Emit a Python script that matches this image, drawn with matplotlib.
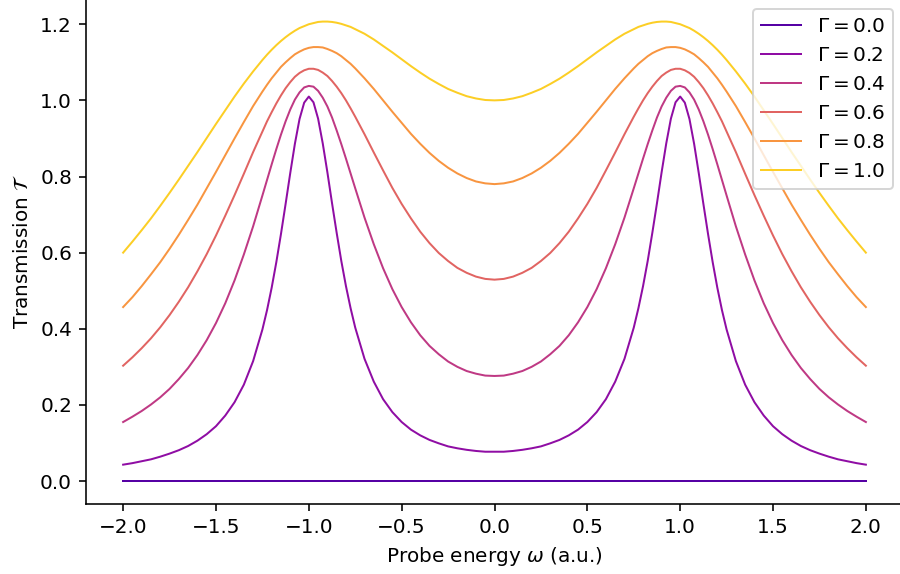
import matplotlib
matplotlib.use("Agg")
import matplotlib.pyplot as plt

# probe energies (finer spacing around the resonances at +-1)
omega = [-2.0, -1.95, -1.9, -1.85, -1.8, -1.75, -1.7, -1.65, -1.6, -1.55,
         -1.5, -1.45, -1.4, -1.35, -1.3, -1.25, -1.225, -1.2, -1.175, -1.15,
         -1.125, -1.1, -1.075, -1.05, -1.025, -1.0, -0.975, -0.95, -0.925,
         -0.9, -0.875, -0.85, -0.825, -0.8, -0.775, -0.75, -0.7, -0.65,
         -0.6, -0.55, -0.5, -0.45, -0.4, -0.35, -0.3, -0.25, -0.2, -0.15,
         -0.1, -0.05,
         0.0,
         0.05, 0.1, 0.15, 0.2, 0.25, 0.3, 0.35, 0.4, 0.45, 0.5, 0.55, 0.6,
         0.65, 0.7, 0.75, 0.775, 0.8, 0.825, 0.85, 0.875, 0.9, 0.925, 0.95,
         0.975, 1.0, 1.025, 1.05, 1.075, 1.1, 1.125, 1.15, 1.175, 1.2, 1.225,
         1.25, 1.3, 1.35, 1.4, 1.45, 1.5, 1.55, 1.6, 1.65, 1.7, 1.75, 1.8,
         1.85, 1.9, 1.95, 2.0]

gammas = [0.0, 0.2, 0.4, 0.6, 0.8, 1.0]

# no broadening: flat line
t_g00 = [0.0, 0.0, 0.0, 0.0, 0.0, 0.0, 0.0, 0.0, 0.0, 0.0,
         0.0, 0.0, 0.0, 0.0, 0.0, 0.0, 0.0, 0.0, 0.0, 0.0,
         0.0, 0.0, 0.0, 0.0, 0.0, 0.0, 0.0, 0.0, 0.0, 0.0,
         0.0, 0.0, 0.0, 0.0, 0.0, 0.0, 0.0, 0.0, 0.0, 0.0,
         0.0, 0.0, 0.0, 0.0, 0.0, 0.0, 0.0, 0.0, 0.0, 0.0,
         0.0,
         0.0, 0.0, 0.0, 0.0, 0.0, 0.0, 0.0, 0.0, 0.0, 0.0,
         0.0, 0.0, 0.0, 0.0, 0.0, 0.0, 0.0, 0.0, 0.0, 0.0,
         0.0, 0.0, 0.0, 0.0, 0.0, 0.0, 0.0, 0.0, 0.0, 0.0,
         0.0, 0.0, 0.0, 0.0, 0.0, 0.0, 0.0, 0.0, 0.0, 0.0,
         0.0, 0.0, 0.0, 0.0, 0.0, 0.0, 0.0, 0.0, 0.0, 0.0]

t_g02 = [0.043, 0.047, 0.052, 0.057, 0.064, 0.072, 0.081, 0.092, 0.106, 0.123,
         0.144, 0.172, 0.207, 0.253, 0.315, 0.398, 0.449, 0.508, 0.575, 0.649,
         0.728, 0.809, 0.886, 0.951, 0.994, 1.010, 0.995, 0.952, 0.887, 0.811,
         0.730, 0.652, 0.578, 0.512, 0.454, 0.403, 0.321, 0.261, 0.215, 0.181,
         0.155, 0.135, 0.120, 0.108, 0.099, 0.091, 0.086, 0.082, 0.079, 0.077,
         0.077,
         0.077, 0.079, 0.082, 0.086, 0.091, 0.099, 0.108, 0.120, 0.135, 0.155,
         0.181, 0.215, 0.261, 0.321, 0.403, 0.454, 0.512, 0.578, 0.652, 0.730,
         0.811, 0.887, 0.952, 0.995, 1.010, 0.994, 0.951, 0.886, 0.809, 0.728,
         0.649, 0.575, 0.508, 0.449, 0.398, 0.315, 0.253, 0.207, 0.172, 0.144,
         0.123, 0.106, 0.092, 0.081, 0.072, 0.064, 0.057, 0.052, 0.047, 0.043]

t_g04 = [0.155, 0.169, 0.184, 0.201, 0.220, 0.242, 0.268, 0.297, 0.331, 0.370,
         0.415, 0.467, 0.527, 0.595, 0.669, 0.750, 0.791, 0.832, 0.872, 0.910,
         0.945, 0.976, 1.002, 1.021, 1.034, 1.038, 1.036, 1.025, 1.007, 0.984,
         0.955, 0.921, 0.885, 0.847, 0.808, 0.769, 0.692, 0.622, 0.559, 0.504,
         0.457, 0.417, 0.383, 0.355, 0.333, 0.314, 0.300, 0.289, 0.282, 0.277,
         0.276,
         0.277, 0.282, 0.289, 0.300, 0.314, 0.333, 0.355, 0.383, 0.417, 0.457,
         0.504, 0.559, 0.622, 0.692, 0.769, 0.808, 0.847, 0.885, 0.921, 0.955,
         0.984, 1.007, 1.025, 1.036, 1.038, 1.034, 1.021, 1.002, 0.976, 0.945,
         0.910, 0.872, 0.832, 0.791, 0.750, 0.669, 0.595, 0.527, 0.467, 0.415,
         0.370, 0.331, 0.297, 0.268, 0.242, 0.220, 0.201, 0.184, 0.169, 0.155]

t_g06 = [0.303, 0.325, 0.349, 0.375, 0.404, 0.436, 0.471, 0.509, 0.551, 0.596,
         0.645, 0.697, 0.751, 0.807, 0.864, 0.918, 0.945, 0.969, 0.992, 1.013,
         1.032, 1.048, 1.062, 1.072, 1.079, 1.083, 1.083, 1.080, 1.073, 1.064,
         1.051, 1.036, 1.019, 1.000, 0.979, 0.957, 0.911, 0.863, 0.816, 0.770,
         0.728, 0.690, 0.655, 0.625, 0.599, 0.578, 0.560, 0.547, 0.537, 0.531,
         0.529,
         0.531, 0.537, 0.547, 0.560, 0.578, 0.599, 0.625, 0.655, 0.690, 0.728,
         0.770, 0.816, 0.863, 0.911, 0.957, 0.979, 1.000, 1.019, 1.036, 1.051,
         1.064, 1.073, 1.080, 1.083, 1.083, 1.079, 1.072, 1.062, 1.048, 1.032,
         1.013, 0.992, 0.969, 0.945, 0.918, 0.864, 0.807, 0.751, 0.697, 0.645,
         0.596, 0.551, 0.509, 0.471, 0.436, 0.404, 0.375, 0.349, 0.325, 0.303]

t_g08 = [0.457, 0.483, 0.512, 0.543, 0.575, 0.610, 0.647, 0.686, 0.726, 0.769,
         0.812, 0.856, 0.900, 0.943, 0.985, 1.023, 1.041, 1.058, 1.073, 1.088,
         1.100, 1.111, 1.121, 1.128, 1.134, 1.138, 1.140, 1.140, 1.139, 1.135,
         1.130, 1.124, 1.116, 1.106, 1.096, 1.084, 1.058, 1.030, 1.000, 0.970,
         0.941, 0.912, 0.886, 0.862, 0.841, 0.823, 0.808, 0.796, 0.787, 0.782,
         0.780,
         0.782, 0.787, 0.796, 0.808, 0.823, 0.841, 0.862, 0.886, 0.912, 0.941,
         0.970, 1.000, 1.030, 1.058, 1.084, 1.096, 1.106, 1.116, 1.124, 1.130,
         1.135, 1.139, 1.140, 1.140, 1.138, 1.134, 1.128, 1.121, 1.111, 1.100,
         1.088, 1.073, 1.058, 1.041, 1.023, 0.985, 0.943, 0.900, 0.856, 0.812,
         0.769, 0.726, 0.686, 0.647, 0.610, 0.575, 0.543, 0.512, 0.483, 0.457]

t_g10 = [0.600, 0.629, 0.659, 0.690, 0.723, 0.757, 0.792, 0.828, 0.864, 0.901,
         0.938, 0.974, 1.010, 1.044, 1.076, 1.106, 1.120, 1.133, 1.145, 1.156,
         1.166, 1.175, 1.183, 1.190, 1.195, 1.200, 1.203, 1.206, 1.207, 1.207,
         1.206, 1.204, 1.201, 1.197, 1.193, 1.187, 1.175, 1.160, 1.143, 1.126,
         1.108, 1.090, 1.073, 1.057, 1.043, 1.030, 1.020, 1.011, 1.005, 1.001,
         1.000,
         1.001, 1.005, 1.011, 1.020, 1.030, 1.043, 1.057, 1.073, 1.090, 1.108,
         1.126, 1.143, 1.160, 1.175, 1.187, 1.193, 1.197, 1.201, 1.204, 1.206,
         1.207, 1.207, 1.206, 1.203, 1.200, 1.195, 1.190, 1.183, 1.175, 1.166,
         1.156, 1.145, 1.133, 1.120, 1.106, 1.076, 1.044, 1.010, 0.974, 0.938,
         0.901, 0.864, 0.828, 0.792, 0.757, 0.723, 0.690, 0.659, 0.629, 0.600]

curves = [t_g00, t_g02, t_g04, t_g06, t_g08, t_g10]
cmap_pos = [0.15, 0.30, 0.45, 0.60, 0.75, 0.90]

fig = plt.figure(figsize=(6.25, 574 / 144), dpi=144)
ax = fig.add_axes([86 / 900, 70 / 574, 817 / 900, 505.4 / 574])

for g, t, c in zip(gammas, curves, cmap_pos):
    ax.plot(omega, t, color=plt.cm.plasma(c), lw=1.0,
            label=r"$\Gamma = %.1f$" % g)

ax.spines["top"].set_visible(False)
ax.spines["right"].set_visible(False)
ax.set_xlabel(r"Probe energy $\omega$ (a.u.)")
ax.set_ylabel(r"Transmission $\mathcal{T}$")
ax.legend(loc="upper right")

fig.savefig("out.png", dpi=144)
